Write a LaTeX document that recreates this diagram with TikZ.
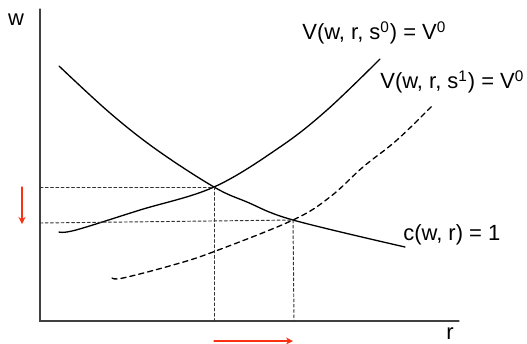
\documentclass[tikz,border=0pt]{standalone}
\usepackage{fontspec}
\setmainfont{Liberation Sans}
\usetikzlibrary{arrows.meta}
\begin{document}
\begin{tikzpicture}[x=0.02cm, y=-0.02cm, line cap=round, >=stealth,
  every node/.style={font=\fontsize{12.5}{15}\selectfont, inner sep=0pt},
  axis/.style={draw=black!75, line width=0.6pt},
  curve/.style={line width=0.75pt},
  guide/.style={draw=black!80, line width=0.55pt, dash pattern=on 1.6pt off 1.4pt},
  movearrow/.style={draw={rgb,255:red,250;green,50;blue,20}, line width=0.7pt, -{Stealth[length=4pt,width=4pt]}}]
\useasboundingbox (0,0) rectangle (527,343);

% ---------- axes ----------
\coordinate (top) at (40,9);
\coordinate (O) at (40,321);
\coordinate (right) at (459,321);
\draw[axis] (top) -- (O) -- (right);
\node (wlab) at (16,20) {w};
\node (rlab) at (450,334) {r};

% ---------- the three curves ----------
\coordinate (A) at (214,187);
\coordinate (B) at (293,220);
\draw[curve] plot[smooth, tension=0.6] coordinates {(59,66) (110,113) (157,150) (A) (247,202) (B) (405,247)};
\draw[curve] plot[smooth, tension=0.6] coordinates {(59,232) (76,230) (140,210) (A) (280,147) (327,110) (380,59)};
\draw[curve, dash pattern=on 3pt off 2.2pt] plot[smooth, tension=0.6] coordinates {(112,278) (123,278) (173,265) (213,252) (B) (330,197) (363,167) (397,140) (433,105)};

\node[anchor=west] (V0) at (302,33) {V(w, r, s\textsuperscript{0}) = V\textsuperscript{0}};
\node[anchor=west] (V1) at (380,82) {V(w, r, s\textsuperscript{1}) = V\textsuperscript{0}};
\node[anchor=west] (c1) at (403,235) {c(w, r) = 1};

% ---------- guides ----------
\coordinate (wA) at (40,187);
\coordinate (wB) at (40,223);
\coordinate (rA) at (214,321);
\coordinate (rB) at (294,321);
\draw[guide] (wA) -- (A) -- (rA);
\draw[guide] (wB) -- (B) -- (rB);

% ---------- shifts ----------
\coordinate (dn1) at (22,187);
\coordinate (dn2) at (22,224);
\coordinate (rt1) at (214,341);
\coordinate (rt2) at (293,341);
\draw[movearrow] (dn1) -- (dn2);
\draw[movearrow] (rt1) -- (rt2);

\end{tikzpicture}
\end{document}
